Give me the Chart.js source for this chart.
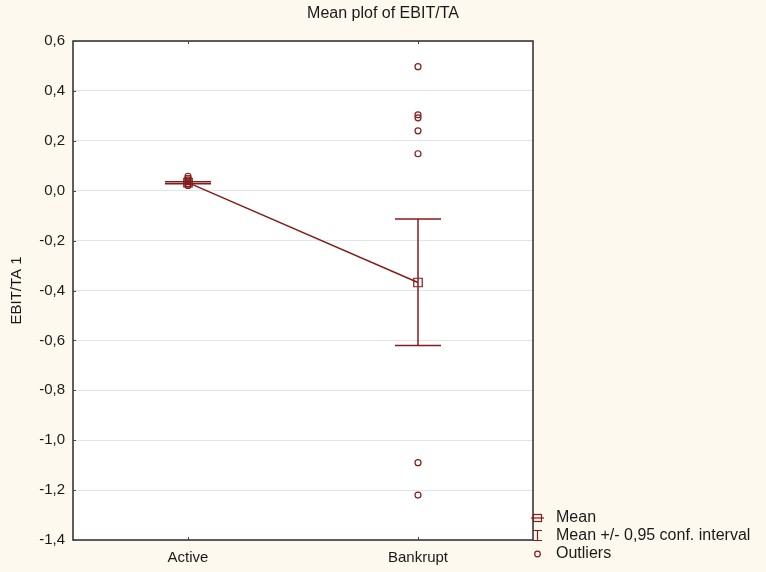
<!DOCTYPE html>
<html>
<head>
<meta charset="utf-8">
<script src="https://cdn.jsdelivr.net/npm/chart.js@4.4.1/dist/chart.umd.min.js"></script>
<style>
  html, body { margin: 0; padding: 0; background: #fdf9ef; }
  #wrap { width: 766px; height: 572px; }
</style>
</head>
<body>
<div id="wrap"><canvas id="meanPlot" width="766" height="572"></canvas></div>
<script>
const categories = ['Active', 'Bankrupt'];
const means = [0.032, -0.368];
const ciLow = [0.028, -0.620];
const ciHigh = [0.036, -0.113];
const outliersActive = [0.058, 0.050, 0.043, 0.036, 0.028, 0.021];
const outliersBankrupt = [0.497, 0.304, 0.292, 0.240, 0.148, -1.090, -1.220];
const yTickValues = [0.6, 0.4, 0.2, 0.0, -0.2, -0.4, -0.6, -0.8, -1.0, -1.2, -1.4];
const legendLabels = ['Mean', 'Mean +/- 0,95 conf. interval', 'Outliers'];

const RED = '#841c1c';
const FONT = "'Liberation Sans', Arial, sans-serif";

const outlierPoints = [];
outliersActive.forEach(v => outlierPoints.push({ x: categories[0], y: v }));
outliersBankrupt.forEach(v => outlierPoints.push({ x: categories[1], y: v }));

const extras = {
    id: 'extras',
    beforeDraw(chart) {
        const { ctx, chartArea: a } = chart;
        ctx.save();
        ctx.fillStyle = '#fdf9ef';
        ctx.fillRect(0, 0, chart.width, chart.height);
        ctx.fillStyle = '#ffffff';
        ctx.fillRect(a.left, a.top, a.right - a.left, a.bottom - a.top);
        ctx.restore();
    },
    afterDatasetsDraw(chart) {
        const { ctx, chartArea: a } = chart;
        const xs = chart.scales.x, ys = chart.scales.y;
        ctx.save();
        // error bars
        ctx.strokeStyle = RED;
        ctx.lineWidth = 1.5;
        categories.forEach((c, i) => {
            const x = Math.round(xs.getPixelForValue(i));
            const yh = ys.getPixelForValue(ciHigh[i]);
            const yl = ys.getPixelForValue(ciLow[i]);
            ctx.beginPath();
            ctx.moveTo(x, yh); ctx.lineTo(x, yl);
            ctx.moveTo(x - 23, yh); ctx.lineTo(x + 23, yh);
            ctx.moveTo(x - 23, yl); ctx.lineTo(x + 23, yl);
            ctx.stroke();
        });
        // frame
        ctx.strokeStyle = '#2a2a2a';
        ctx.lineWidth = 1.5;
        ctx.strokeRect(a.left, a.top, a.right - a.left, a.bottom - a.top);
        // inner ticks
        ctx.lineWidth = 1;
        ctx.strokeStyle = '#444';
        ctx.beginPath();
        yTickValues.forEach(v => {
            const y = Math.round(ys.getPixelForValue(v)) + 0.5;
            ctx.moveTo(a.left, y); ctx.lineTo(a.left + 3, y);
        });
        categories.forEach((c, i) => {
            const x = Math.round(xs.getPixelForValue(i)) + 0.5;
            ctx.moveTo(x, a.top); ctx.lineTo(x, a.top + 3);
            ctx.moveTo(x, a.bottom); ctx.lineTo(x, a.bottom - 3);
        });
        ctx.stroke();
        ctx.restore();
    },
    afterDraw(chart) {
        const { ctx, chartArea: a } = chart;
        ctx.save();
        ctx.fillStyle = '#1a1a1a';
        ctx.font = '16px ' + FONT;
        ctx.textAlign = 'center';
        ctx.textBaseline = 'middle';
        ctx.fillText('Mean plof of EBIT/TA', chart.width / 2, 14);

        // legend
        const ix = a.right - 1, tx = a.right + 23;
        const rows = [518, 536, 554];
        ctx.font = '16px ' + FONT;
        ctx.textAlign = 'left';
        legendLabels.forEach((t, i) => ctx.fillText(t, tx, rows[i]));
        ctx.strokeStyle = RED;
        ctx.lineWidth = 1.2;
        // mean icon
        let y = rows[0];
        ctx.strokeRect(ix + 1.5, y - 3.5, 8, 7);
        ctx.beginPath();
        ctx.moveTo(ix - 1, y); ctx.lineTo(ix + 12, y);
        ctx.stroke();
        // ci icon
        y = rows[1];
        ctx.beginPath();
        ctx.moveTo(ix + 5.5, y - 6); ctx.lineTo(ix + 5.5, y + 5);
        ctx.moveTo(ix + 1, y - 5.5); ctx.lineTo(ix + 10, y - 5.5);
        ctx.moveTo(ix + 1, y + 4.5); ctx.lineTo(ix + 10, y + 4.5);
        ctx.stroke();
        // outlier icon
        y = rows[2];
        ctx.beginPath();
        ctx.arc(ix + 5.5, y, 2.8, 0, Math.PI * 2);
        ctx.stroke();
        ctx.restore();
    }
};

new Chart(document.getElementById('meanPlot'), {
    data: {
        labels: categories,
        datasets: [
            {
                type: 'line',
                label: 'Mean',
                data: means,
                borderColor: RED,
                borderWidth: 1.4,
                pointStyle: 'rect',
                pointRadius: 6,
                pointBorderWidth: 1.2,
                pointBackgroundColor: 'rgba(0,0,0,0)',
                pointBorderColor: RED,
                order: 1
            },
            {
                type: 'line',
                label: 'Outliers',
                data: outlierPoints,
                showLine: false,
                pointStyle: 'circle',
                pointRadius: 3,
                pointBorderWidth: 1.2,
                pointBackgroundColor: 'rgba(0,0,0,0)',
                pointBorderColor: RED,
                order: 2
            }
        ]
    },
    options: {
        responsive: false,
        animation: false,
        layout: { padding: { top: 41, right: 233, bottom: 0, left: 0 } },
        plugins: {
            legend: { display: false },
            title: { display: false },
            tooltip: { enabled: false }
        },
        scales: {
            x: {
                type: 'category',
                offset: true,
                grid: { display: false, drawTicks: false },
                border: { display: false },
                ticks: { color: '#1a1a1a', font: { family: FONT, size: 15 }, padding: 9 },
                afterFit(scale) { scale.height = 32; }
            },
            y: {
                type: 'linear',
                min: -1.4,
                max: 0.6,
                afterBuildTicks(scale) { scale.ticks = yTickValues.map(v => ({ value: v })); },
                grid: { color: '#e4e4e4', drawTicks: false },
                border: { display: false },
                ticks: {
                    color: '#1a1a1a',
                    font: { family: FONT, size: 15 },
                    padding: 8,
                    callback: v => v.toFixed(1).replace('.', ',')
                },
                title: {
                    display: true,
                    text: 'EBIT/TA 1',
                    color: '#1a1a1a',
                    font: { family: FONT, size: 15 },
                    padding: { top: 8, bottom: 0 }
                },
                afterFit(scale) { scale.width = 73; }
            }
        }
    },
    plugins: [extras]
});
</script>
</body>
</html>
